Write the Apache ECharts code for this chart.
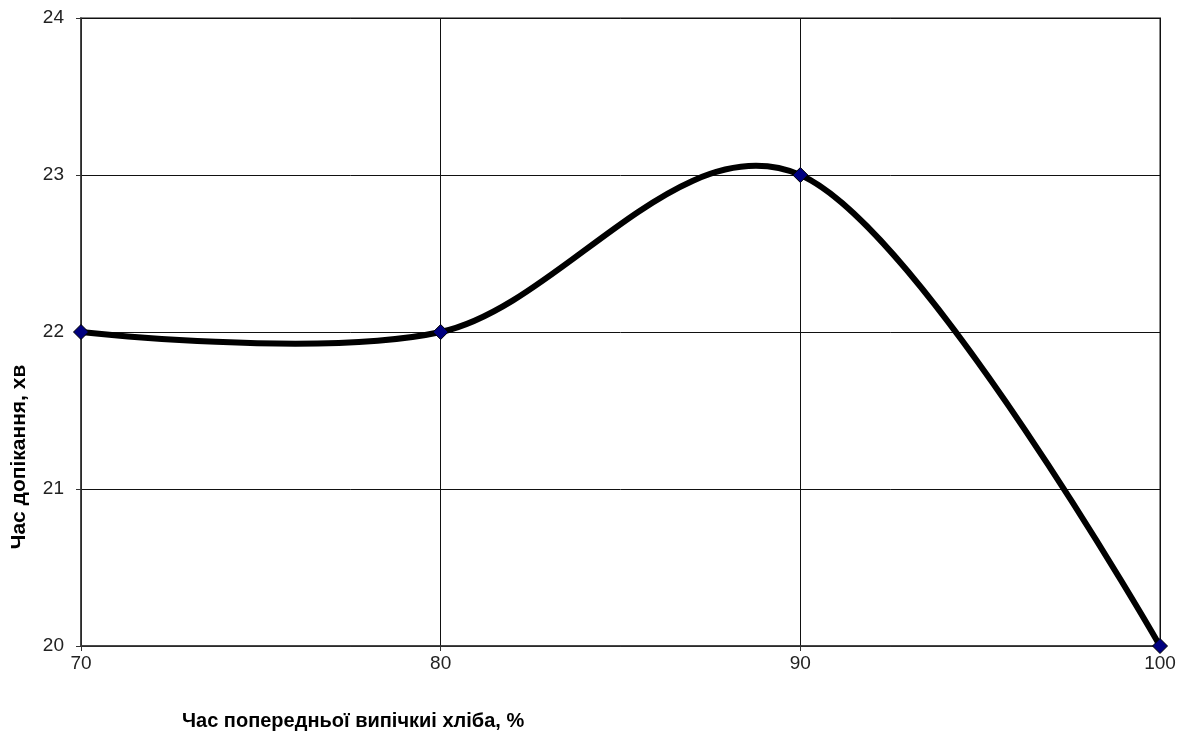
<!DOCTYPE html>
<html><head><meta charset="utf-8">
<script src="https://cdn.jsdelivr.net/npm/echarts@6/dist/echarts.min.js"></script>
<style>html,body{margin:0;padding:0;background:#fff}#c{width:1184px;height:736px}</style>
</head><body><div id="c"></div>
<script>
const xValues = [70, 80, 90, 100];
const yValues = [22, 22, 23, 20];
const xTicks = [70, 80, 90, 100];
const yTicks = [20, 21, 22, 23, 24];
const xTitle = 'Час попередньої випічкиі хліба, %';
const yTitle = 'Час допікання, хв';
const points = xValues.map((x, i) => [x, yValues[i]]);

// Excel-like smoothed curve (Catmull-Rom bezier) drawn in pixel space via the axes
function renderCurve(params, api) {
  if (params.dataIndex !== 0) return null;
  const p = points.map(d => api.coord(d));
  const n = p.length;
  let path = 'M' + p[0][0] + ' ' + p[0][1];
  for (let i = 0; i < n - 1; i++) {
    const p0 = p[Math.max(i - 1, 0)], p1 = p[i], p2 = p[i + 1], p3 = p[Math.min(i + 2, n - 1)];
    const c1 = i === 0 ? p1 : [p1[0] + (p2[0] - p0[0]) / 6, p1[1] + (p2[1] - p0[1]) / 6];
    const c2 = i === n - 2 ? p2 : [p2[0] - (p3[0] - p1[0]) / 6, p2[1] - (p3[1] - p1[1]) / 6];
    path += ' C' + c1[0] + ' ' + c1[1] + ' ' + c2[0] + ' ' + c2[1] + ' ' + p2[0] + ' ' + p2[1];
  }
  return {type: 'path', shape: {pathData: path}, style: {fill: 'none', stroke: '#000', lineWidth: 6, lineJoin: 'round', lineCap: 'round'}};
}

const chart = echarts.init(document.getElementById('c'));
chart.setOption({
  animation: false,
  backgroundColor: '#fff',
  grid: {left: 81, right: 24, top: 18, bottom: 90},
  xAxis: {
    type: 'value', min: xTicks[0], max: xTicks[xTicks.length - 1], interval: 10,
    axisLine: {show: true, lineStyle: {color: '#333', width: 1.5}},
    axisTick: {show: true, length: 5, lineStyle: {color: '#333'}},
    axisLabel: {color: '#222', fontSize: 19, fontFamily: 'Liberation Sans', margin: 8},
    splitLine: {show: true, lineStyle: {color: '#111', width: 1}}
  },
  yAxis: {
    type: 'value', min: yTicks[0], max: yTicks[yTicks.length - 1], interval: 1,
    axisLine: {show: true, lineStyle: {color: '#333', width: 1.5}},
    axisTick: {show: true, length: 5, lineStyle: {color: '#333'}},
    axisLabel: {color: '#222', fontSize: 19, fontFamily: 'Liberation Sans', margin: 17},
    splitLine: {show: true, lineStyle: {color: '#111', width: 1}}
  },
  graphic: [
    {type: 'rect', shape: {x: 81, y: 18, width: 1079, height: 628}, style: {fill: 'none', stroke: '#888', lineWidth: 2}, silent: true, z: -1},
    {type: 'text', x: 182, y: 721, style: {text: xTitle, font: 'bold 20px Liberation Sans', fill: '#000', textVerticalAlign: 'middle'}},
    {type: 'text', x: 19, y: 457, rotation: Math.PI / 2, style: {text: yTitle, font: 'bold 21px Liberation Sans', fill: '#000', textAlign: 'center', textVerticalAlign: 'middle'}}
  ],
  series: [{
    type: 'custom',
    renderItem: renderCurve,
    data: points,
    silent: true,
    z: 4
  }, {
    type: 'scatter',
    data: points,
    symbol: 'diamond', symbolSize: 15,
    itemStyle: {color: '#00007f', borderColor: '#000', borderWidth: 1, opacity: 1},
    z: 5
  }]
});
</script></body></html>
